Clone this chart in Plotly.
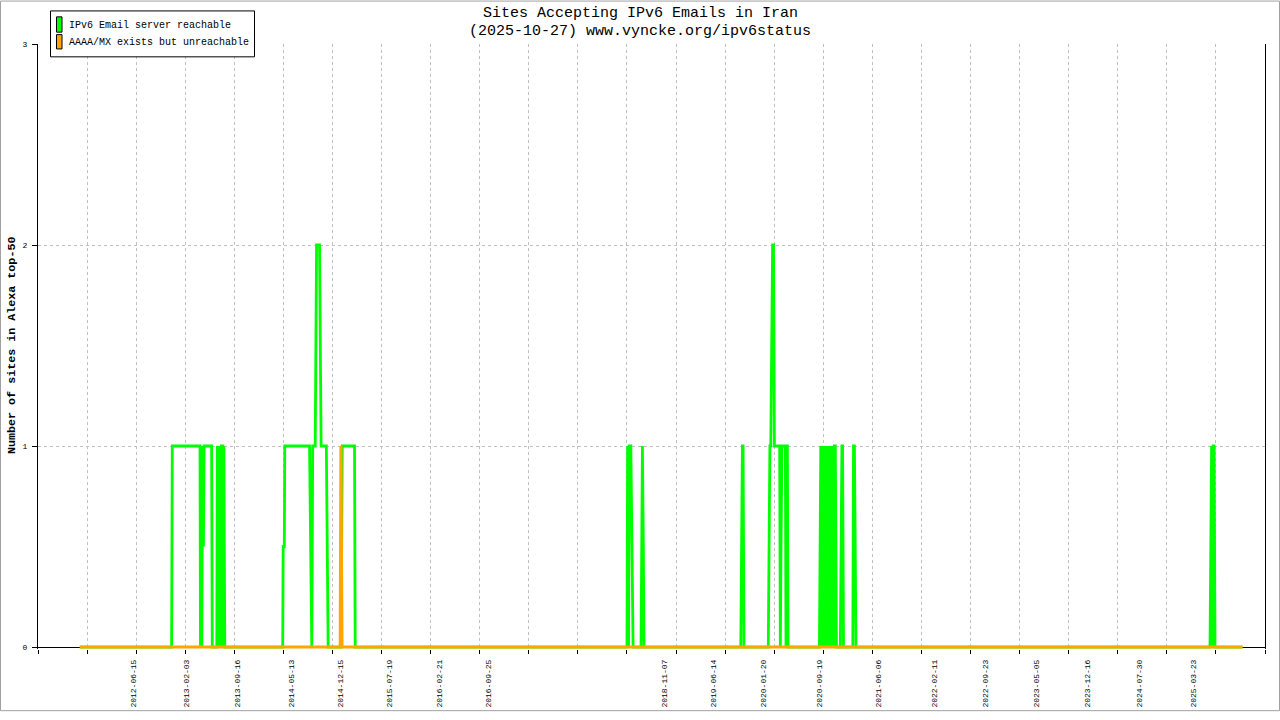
import plotly.graph_objects as go

# ---------------- data ----------------
green_dates = [
    "2011-10-24", "2012-12-01", "2012-12-04", "2013-04-05", "2013-04-07", "2013-04-10",
    "2013-04-13", "2013-04-16", "2013-04-20", "2013-04-23", "2013-05-26", "2013-05-29",
    "2013-06-18", "2013-06-20", "2013-06-23", "2013-06-26", "2013-06-29", "2013-07-02",
    "2013-07-05", "2013-07-08", "2013-07-14", "2013-07-16", "2013-07-19", "2013-07-23",
    "2014-04-04", "2014-04-06", "2014-04-11", "2014-04-13", "2014-07-31", "2014-08-05",
    "2014-08-10", "2014-08-14", "2014-08-25", "2014-08-28", "2014-08-31", "2014-09-13",
    "2014-09-16", "2014-09-20", "2014-10-13", "2014-10-17", "2014-10-21", "2014-12-17",
    "2014-12-19", "2014-12-22", "2015-02-14", "2015-02-17",
    "2018-05-28", "2018-05-31", "2018-06-04", "2018-06-07", "2018-06-14", "2018-06-19",
    "2018-06-24", "2018-07-29", "2018-08-01", "2018-08-04", "2018-08-08", "2018-08-11",
    "2019-10-11", "2019-10-14", "2019-10-18", "2019-10-21", "2019-10-25",
    "2020-02-09", "2020-02-12", "2020-02-16", "2020-02-20", "2020-02-24", "2020-02-28",
    "2020-03-03", "2020-03-07", "2020-03-30", "2020-04-02", "2020-04-05", "2020-04-09",
    "2020-04-24", "2020-04-27", "2020-04-30", "2020-05-03", "2020-05-06",
    "2020-09-21", "2020-09-24", "2020-09-27", "2020-09-30", "2020-10-03", "2020-10-06",
    "2020-10-09", "2020-10-12", "2020-10-15", "2020-10-18", "2020-10-21", "2020-10-24",
    "2020-10-27", "2020-10-30", "2020-11-02", "2020-11-05", "2020-11-08", "2020-11-11",
    "2020-11-14", "2020-11-17", "2020-11-20", "2020-11-23", "2020-11-26", "2020-11-30",
    "2020-12-02", "2020-12-05",
    "2020-12-22", "2020-12-25", "2020-12-29", "2021-01-01", "2021-01-05",
    "2021-02-15", "2021-02-18", "2021-02-22", "2021-02-25", "2021-03-01",
    "2025-06-06", "2025-06-09", "2025-06-13", "2025-06-17", "2025-06-20", "2025-06-24",
    "2025-06-28", "2025-10-27",
]
green_values = [
    0, 0, 1, 1, 0, 1,
    0, 1, 0.5, 1, 1, 0,
    0, 1, 0, 1, 0, 1,
    0, 1, 1, 0, 1, 0,
    0, 0.5, 0.5, 1, 1, 0.5,
    0, 1, 1, 1.5, 2, 2,
    1.5, 1, 1, 0.5, 0, 0,
    0.5, 1, 1, 0,
    0, 1, 0, 1, 1, 0.5,
    0, 0, 1, 1, 0.5, 0,
    0, 0.5, 1, 1, 0,
    0, 0.5, 1, 1, 1.5, 2,
    2, 1, 1, 0, 0.5, 1,
    1, 0, 1, 1, 0,
    0, 0.5, 1, 0, 1, 0,
    1, 0, 1, 0, 1, 0,
    1, 0, 1, 0, 1, 0,
    1, 0, 1, 0, 1, 1,
    0.5, 0,
    0, 0.5, 1, 1, 0,
    0, 1, 1, 0.5, 0,
    0, 0.5, 1, 0, 1, 1,
    0, 0,
]

orange_dates = ["2011-10-24", "2014-12-13", "2014-12-16", "2014-12-19", "2014-12-21", "2025-10-27"]
orange_values = [0, 0, 1, 0.5, 0, 0]

label_dates = [
    "2012-06-15", "2013-02-03", "2013-09-16", "2014-05-13", "2014-12-15", "2015-07-19",
    "2016-02-21", "2016-09-25", "2018-11-07", "2019-06-14", "2020-01-20", "2020-09-19",
    "2021-06-06", "2022-02-11", "2022-09-23", "2023-05-05", "2023-12-16", "2024-07-30",
    "2025-03-23",
]
y_ticks = [0, 1, 2, 3]

series_names = ["IPv6 Email server reachable", "AAAA/MX exists but unreachable"]
series_colors = ["#00ff00", "#ffa500"]

title_lines = ["Sites Accepting IPv6 Emails in Iran", "(2025-10-27) www.vyncke.org/ipv6status"]
y_title = "Number of sites in Alexa top-50"

x_range = ["2011-04-23", "2026-02-03"]
tick_start = "2011-04-23"
tick_step_ms = 216 * 86400000

# ---------------- layout helpers ----------------
W, H = 1280, 720
L, R, T, B = 38, 15, 44, 63
PW, PH = W - L - R, H - T - B
Y0_PX = 655  # pixel row of y = 0
Y_MIN = -(H - B - Y0_PX) / ((Y0_PX - T) / 3.0)
FONT = "Liberation Mono"


def px(x):
    return (x - L) / PW


def py(y):
    return (H - B - y) / PH


fig = go.Figure()
fig.add_trace(go.Scatter(
    x=green_dates, y=green_values, mode="lines", name=series_names[0],
    line=dict(color=series_colors[0], width=2.8), cliponaxis=False, showlegend=False,
))
fig.add_trace(go.Scatter(
    x=orange_dates, y=orange_values, mode="lines", name=series_names[1],
    line=dict(color=series_colors[1], width=3), cliponaxis=False, showlegend=False,
))
# invisible carrier for the date label axis
fig.add_trace(go.Scatter(
    x=label_dates, y=[None] * len(label_dates), xaxis="x2", mode="lines",
    showlegend=False, hoverinfo="skip",
))

shapes = [
    # outer frame
    dict(type="rect", xref="paper", yref="paper", x0=px(0.5), x1=px(W - 0.5), y0=py(0.5), y1=py(H - 0.5),
         line=dict(color="#a0a0a0", width=1), layer="above"),
    # legend box
    dict(type="rect", xref="paper", yref="paper", x0=px(50.5), x1=px(254.5), y0=py(10.5), y1=py(57),
         line=dict(color="black", width=1), fillcolor="white", layer="above"),
    dict(type="rect", xref="paper", yref="paper", x0=px(56.5), x1=px(62), y0=py(16.5), y1=py(32),
         line=dict(color="black", width=1), fillcolor=series_colors[0], layer="above"),
    dict(type="rect", xref="paper", yref="paper", x0=px(56.5), x1=px(62), y0=py(34.5), y1=py(49),
         line=dict(color="black", width=1), fillcolor=series_colors[1], layer="above"),
]

annotations = [
    dict(text=title_lines[0], xref="paper", yref="paper", x=px(640), y=py(13), showarrow=False,
         xanchor="center", yanchor="middle", font=dict(family=FONT, size=15, color="black")),
    dict(text=title_lines[1], xref="paper", yref="paper", x=px(640), y=py(31), showarrow=False,
         xanchor="center", yanchor="middle", font=dict(family=FONT, size=15, color="black")),
    dict(text=series_names[0], xref="paper", yref="paper", x=px(67), y=py(25), showarrow=False,
         xanchor="left", yanchor="middle", font=dict(family=FONT, size=10, color="black")),
    dict(text=series_names[1], xref="paper", yref="paper", x=px(67), y=py(42.5), showarrow=False,
         xanchor="left", yanchor="middle", font=dict(family=FONT, size=10, color="black")),
    dict(text="<b>" + y_title + "</b>", xref="paper", yref="paper", x=px(12), y=py(350), showarrow=False,
         xanchor="center", yanchor="middle", textangle=-90,
         font=dict(family=FONT, size=11.7, color="black")),
]

fig.update_layout(
    width=W, height=H, autosize=False,
    margin=dict(l=L, r=R, t=T, b=B, pad=0),
    paper_bgcolor="white", plot_bgcolor="white",
    showlegend=False,
    font=dict(family=FONT, color="black"),
    shapes=shapes,
    annotations=annotations,
    xaxis=dict(
        type="date", range=x_range, tickmode="linear", tick0=tick_start, dtick=tick_step_ms,
        ticks="outside", ticklen=4, tickcolor="black", tickwidth=1,
        showline=False,
        showgrid=True, gridcolor="#c0c0c0", griddash="dot", gridwidth=1,
        showticklabels=False, layer="below traces", zeroline=False, fixedrange=True,
    ),
    xaxis2=dict(
        type="date", range=x_range, overlaying="x", anchor="y", side="bottom",
        tickmode="array", tickvals=label_dates, ticktext=label_dates, tickangle=-90,
        ticks="", showgrid=False, showline=False, zeroline=False,
        tickfont=dict(family=FONT, size=8, color="black"), ticklabelstandoff=8,
    ),
    yaxis=dict(
        range=[Y_MIN, 3], tickmode="array", tickvals=y_ticks, ticktext=[str(v) for v in y_ticks],
        ticks="outside", ticklen=5, tickcolor="black", tickwidth=1,
        showline=True, linecolor="black", linewidth=1, mirror=True,
        showgrid=True, gridcolor="#c0c0c0", griddash="dot", gridwidth=1,
        zeroline=True, zerolinecolor="black", zerolinewidth=1, layer="below traces",
        tickfont=dict(family=FONT, size=8, color="black"), ticklabelstandoff=3,
    ),
)

post = """
var de=document.documentElement, bd=document.body;
de.style.margin='0';de.style.padding='0';de.style.overflow='hidden';
bd.style.margin='0';bd.style.padding='0';bd.style.overflow='hidden';
var gd=document.getElementById('{plot_id}');
Plotly.relayout(gd,{width:1280,height:720});
"""

fig.write_html("out.html", config={"displayModeBar": False, "responsive": False}, post_script=post)
